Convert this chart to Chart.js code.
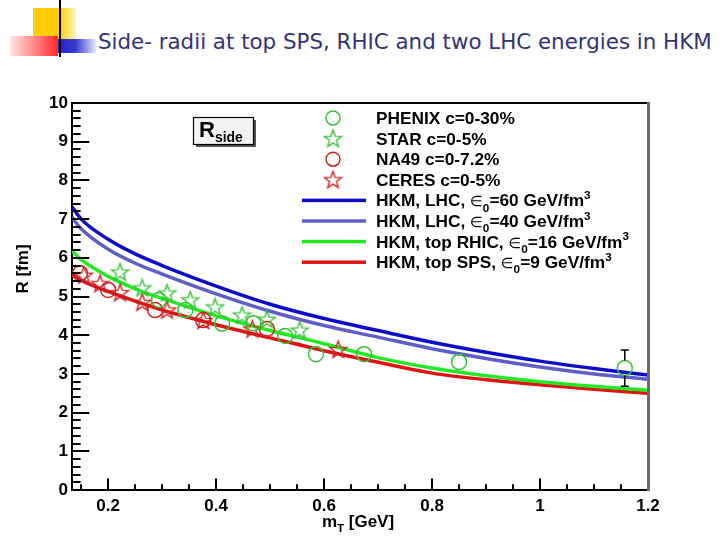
<!DOCTYPE html>
<html>
<head>
<meta charset="utf-8">
<script src="https://cdn.jsdelivr.net/npm/chart.js@4.4.1/dist/chart.umd.min.js"></script>
<style>
  html, body { margin: 0; padding: 0; background: #fff; }
  #wrap { position: relative; width: 720px; height: 540px; overflow: hidden; }
  #c { position: absolute; left: 0; top: 0; }
  .deco { position: absolute; }
  #title { position: absolute; left: 98px; top: 31px; font-family: "DejaVu Sans", Verdana, sans-serif;
           color: #333377; white-space: nowrap; line-height: 1; }
</style>
</head>
<body>
<div id="wrap">
  <div class="deco" style="left:33px;top:8px;width:43px;height:34px;background:linear-gradient(to right,#ffcc00 0%,#ffcc00 60%,#fff3c0 100%);"></div>
  <div class="deco" style="left:10px;top:36px;width:48px;height:20px;background:linear-gradient(to right,#ffe4e4,#ff2a2a);"></div>
  <div class="deco" style="left:58px;top:39px;width:38px;height:14px;background:linear-gradient(to right,#2222cc,#3838cc 45%,#e4e6ff);"></div>
  <div class="deco" style="left:59px;top:0;width:2px;height:57px;background:#000;"></div>
  <div id="title">Side- radii at top SPS, RHIC and two LHC energies in HKM</div>
  <canvas id="c" width="720" height="540"></canvas>
</div>
<script>
// ---- data ----
const X_MIN = 0.133, X_MAX = 1.2;
const X_TICKS = [0.2, 0.4, 0.6, 0.8, 1, 1.2];
const Y_TICKS = [0, 1, 2, 3, 4, 5, 6, 7, 8, 9, 10];

// model curves (HKM), sampled along mT
const CURVE_MT   = [0.133, 0.15, 0.2, 0.25, 0.3, 0.4, 0.5, 0.6, 0.7, 0.8, 0.9, 1.0, 1.1, 1.2];
const LHC60_R    = [7.32, 7.00, 6.48, 6.10, 5.80, 5.27, 4.80, 4.43, 4.12, 3.82, 3.56, 3.33, 3.14, 2.97];
const LHC40_R    = [7.05, 6.75, 6.22, 5.86, 5.58, 5.07, 4.62, 4.25, 3.95, 3.65, 3.40, 3.18, 3.00, 2.86];
const RHIC_R     = [6.18, 5.95, 5.52, 5.20, 4.95, 4.50, 4.12, 3.78, 3.42, 3.15, 2.95, 2.80, 2.68, 2.58];
const SPS_R      = [5.58, 5.42, 5.13, 4.88, 4.65, 4.27, 3.93, 3.60, 3.30, 3.02, 2.85, 2.72, 2.60, 2.50];

// experimental points
const PHENIX_MT  = [0.294, 0.343, 0.411, 0.469, 0.528, 0.585, 0.674, 0.85, 1.157];
const PHENIX_R   = [4.91, 4.65, 4.30, 4.31, 3.98, 3.51, 3.51, 3.31, 3.15];
const PHENIX_ERR = [0, 0, 0, 0, 0, 0, 0, 0, 0.47];
const STAR_MT    = [0.222, 0.263, 0.309, 0.352, 0.398, 0.448, 0.494, 0.555];
const STAR_R     = [5.63, 5.22, 5.09, 4.91, 4.73, 4.52, 4.41, 4.13];
const NA49_MT    = [0.148, 0.2, 0.287, 0.376, 0.494];
const NA49_R     = [5.60, 5.17, 4.65, 4.39, 4.16];
const CERES_MT   = [0.155, 0.185, 0.222, 0.263, 0.309, 0.376, 0.467, 0.626];
const CERES_R    = [5.55, 5.33, 5.10, 4.85, 4.65, 4.38, 4.16, 3.63];

const FONT = '"Liberation Sans", Arial, Helvetica, sans-serif';
const MARK_GREEN = '#33c433', MARK_RED = '#cc2020';

// fit title width to the reference
(function fitTitle() {
  const t = document.getElementById('title');
  const m = document.createElement('canvas').getContext('2d');
  m.font = '20px "DejaVu Sans"';
  const w = m.measureText(t.textContent).width;
  t.style.fontSize = (20 * 614 / w).toFixed(2) + 'px';
})();

function starImage(color) {
  const s = 21, c = document.createElement('canvas');
  c.width = s; c.height = s;
  const g = c.getContext('2d');
  const ro = 9, ri = 3.7, cx = s / 2, cy = s / 2 + 0.6;
  g.beginPath();
  for (let i = 0; i < 10; i++) {
    const r = i % 2 ? ri : ro;
    const a = -Math.PI / 2 + i * Math.PI / 5;
    const px = cx + r * Math.cos(a), py = cy + r * Math.sin(a);
    i ? g.lineTo(px, py) : g.moveTo(px, py);
  }
  g.closePath();
  g.strokeStyle = color;
  g.lineWidth = 1.4;
  g.stroke();
  return c;
}

const zip = (xs, ys) => xs.map((x, i) => ({ x: x, y: ys[i] }));

function markerSet(label, xs, ys, color, style, parts) {
  return {
    label: label, data: zip(xs, ys), showLine: false,
    pointStyle: style, pointRadius: 7.5, pointHoverRadius: 7.5,
    borderColor: color, backgroundColor: 'rgba(0,0,0,0)', borderWidth: 1.5,
    legendParts: parts
  };
}
function curveSet(label, ys, color, parts) {
  return {
    label: label, data: zip(CURVE_MT, ys), showLine: true,
    borderColor: color, backgroundColor: color, borderWidth: 3.5,
    pointRadius: 0, cubicInterpolationMode: 'monotone',
    legendParts: parts
  };
}

const epsParts = (head, val) => [head, { t: '∈' }, { t: '0', sub: true }, '=' + val + ' GeV/fm', { t: '3', sup: true }];

const datasets = [
  markerSet('PHENIX c=0-30%', PHENIX_MT, PHENIX_R, MARK_GREEN, 'circle', ['PHENIX c=0-30%']),
  markerSet('STAR c=0-5%', STAR_MT, STAR_R, MARK_GREEN, starImage(MARK_GREEN), ['STAR c=0-5%']),
  markerSet('NA49 c=0-7.2%', NA49_MT, NA49_R, MARK_RED, 'circle', ['NA49 c=0-7.2%']),
  markerSet('CERES c=0-5%', CERES_MT, CERES_R, MARK_RED, starImage(MARK_RED), ['CERES c=0-5%']),
  curveSet('HKM, LHC, e0=60', LHC60_R, '#0b0bcc', epsParts('HKM, LHC, ', 60)),
  curveSet('HKM, LHC, e0=40', LHC40_R, '#5e5ec8', epsParts('HKM, LHC, ', 40)),
  curveSet('HKM, top RHIC, e0=16', RHIC_R, '#22ea22', epsParts('HKM, top RHIC, ', 16)),
  curveSet('HKM, top SPS, e0=9', SPS_R, '#e01414', epsParts('HKM, top SPS, ', 9))
];
datasets[0].errors = PHENIX_ERR;

// draw a string with sub/superscript pieces, left aligned at x, baseline y
function richText(ctx, x, y, parts, size, dryRun) {
  parts.forEach(p => {
    const o = typeof p === 'string' ? { t: p } : p;
    let fs = size, dy = 0, fam = FONT, wt = 'bold';
    if (o.sub) { fs = size * 0.68; dy = size * 0.3; }
    if (o.sup) { fs = size * 0.68; dy = -size * 0.42; }
    if (o.t === '∈') { fam = '"DejaVu Sans", sans-serif'; wt = 'normal'; fs = size * 0.85; }
    ctx.font = wt + ' ' + fs + 'px ' + fam;
    if (!dryRun) ctx.fillText(o.t, x, y + dy);
    x += ctx.measureText(o.t).width;
  });
  return x;
}

const rootStyle = {
  id: 'rootStyle',
  afterDatasetsDraw(chart) {
    const ctx = chart.ctx, xs = chart.scales.x, ys = chart.scales.y;
    // error bars
    chart.data.datasets.forEach(ds => {
      if (!ds.errors) return;
      ctx.save();
      ctx.strokeStyle = '#000';
      ctx.lineWidth = 1.5;
      ds.data.forEach((p, i) => {
        const e = ds.errors[i];
        if (!e) return;
        const px = xs.getPixelForValue(p.x);
        const top = ys.getPixelForValue(p.y + e), bot = ys.getPixelForValue(p.y - e);
        const py = ys.getPixelForValue(p.y), r = ds.pointRadius;
        ctx.beginPath();
        ctx.moveTo(px, top); ctx.lineTo(px, py - r);
        ctx.moveTo(px, py + r); ctx.lineTo(px, bot);
        ctx.moveTo(px - 4, top); ctx.lineTo(px + 4, top);
        ctx.moveTo(px - 4, bot); ctx.lineTo(px + 4, bot);
        ctx.stroke();
      });
      ctx.restore();
    });
  },
  afterDraw(chart) {
    const ctx = chart.ctx, a = chart.chartArea, xs = chart.scales.x, ys = chart.scales.y;
    ctx.save();
    // frame: top black, right grey
    ctx.fillStyle = '#000';
    ctx.fillRect(a.left, a.top - 1, a.right - a.left, 2);
    ctx.fillStyle = '#6e6e6e';
    ctx.fillRect(a.right - 1, a.top - 1, 3, a.bottom - a.top + 2);

    // inward ticks
    ctx.fillStyle = '#000';
    const h = a.bottom - a.top, w = a.right - a.left;
    for (let k = 3; k <= 24; k++) {
      const px = Math.round(xs.getPixelForValue(k * 0.05));
      if (px < a.left + 2 || px > a.right - 2) continue;
      const len = k % 4 === 0 ? 0.03 * h : 0.015 * h;
      ctx.fillRect(px - 1, a.bottom - len, 2, len);
    }
    for (let k = 1; k < 50; k++) {
      const py = Math.round(ys.getPixelForValue(k * 0.2));
      const len = k % 5 === 0 ? 0.03 * w : 0.015 * w;
      ctx.fillRect(a.left, py - 1, len, 2);
    }

    // axis titles
    ctx.fillStyle = '#000';
    ctx.textBaseline = 'alphabetic';
    const xt = ['m', { t: 'T', sub: true }, ' [GeV]'];
    const xw = richText(ctx, 0, 0, xt, 17, true);
    richText(ctx, (a.left + a.right) / 2 - 2 - xw / 2, 527, xt, 17);
    ctx.save();
    ctx.translate(28, 269);
    ctx.rotate(-Math.PI / 2);
    ctx.font = 'bold 17px ' + FONT;
    ctx.textAlign = 'center';
    ctx.fillText('R [fm]', 0, 0);
    ctx.restore();

    // R_side label box
    const bx = 193, by = 117, bw = 60, bh = 27;
    ctx.fillStyle = '#555';
    ctx.fillRect(bx + 3, by + 3, bw, bh);
    ctx.fillStyle = '#f2f2f2';
    ctx.fillRect(bx, by, bw, bh);
    ctx.strokeStyle = '#000'; ctx.lineWidth = 1.2;
    ctx.strokeRect(bx + 0.5, by + 0.5, bw, bh);
    ctx.fillStyle = '#000';
    ctx.font = 'bold 22px ' + FONT;
    ctx.fillText('R', bx + 6, by + 20);
    const rw = ctx.measureText('R').width;
    ctx.font = 'bold 14px ' + FONT;
    ctx.fillText('side', bx + 6 + rw, by + 25);

    // legend
    const rowY0 = 118, rowStep = 20.6, symX = 333, textX = 376;
    chart.data.datasets.forEach((ds, i) => {
      const cy = rowY0 + i * rowStep;
      if (ds.showLine) {
        ctx.fillStyle = ds.borderColor;
        ctx.fillRect(302, cy - 1.75, 64, 3.5);
      } else if (ds.pointStyle === 'circle') {
        ctx.strokeStyle = ds.borderColor; ctx.lineWidth = 1.5;
        ctx.beginPath(); ctx.arc(symX, cy, 7, 0, Math.PI * 2); ctx.stroke();
      } else {
        const im = ds.pointStyle;
        ctx.drawImage(im, symX - im.width / 2, cy - im.height / 2);
      }
      ctx.fillStyle = '#000';
      richText(ctx, textX, cy + 6, ds.legendParts, 17.3);
    });
    ctx.restore();
  }
};

new Chart(document.getElementById('c'), {
  type: 'scatter',
  data: { datasets: datasets },
  options: {
    responsive: false,
    animation: false,
    devicePixelRatio: 1,
    layout: { padding: { top: 103, right: 72, bottom: 0, left: 0 } },
    plugins: { legend: { display: false }, tooltip: { enabled: false }, title: { display: false } },
    scales: {
      x: {
        type: 'linear', min: X_MIN, max: X_MAX,
        afterBuildTicks: s => { s.ticks = X_TICKS.map(v => ({ value: v })); },
        afterFit: s => { s.height = 50; },
        grid: { display: false, drawTicks: false },
        border: { display: true, color: '#000', width: 2 },
        ticks: { padding: 6, color: '#000', maxRotation: 0, font: { family: FONT, size: 17, weight: 'bold' },
                 callback: v => String(v) }
      },
      y: {
        type: 'linear', min: 0, max: 10,
        afterBuildTicks: s => { s.ticks = Y_TICKS.map(v => ({ value: v })); },
        afterFit: s => { s.width = 72; },
        grid: { display: false, drawTicks: false },
        border: { display: true, color: '#000', width: 2 },
        ticks: { padding: 4, color: '#000', font: { family: FONT, size: 17, weight: 'bold' } }
      }
    }
  },
  plugins: [rootStyle]
});
</script>
</body>
</html>
